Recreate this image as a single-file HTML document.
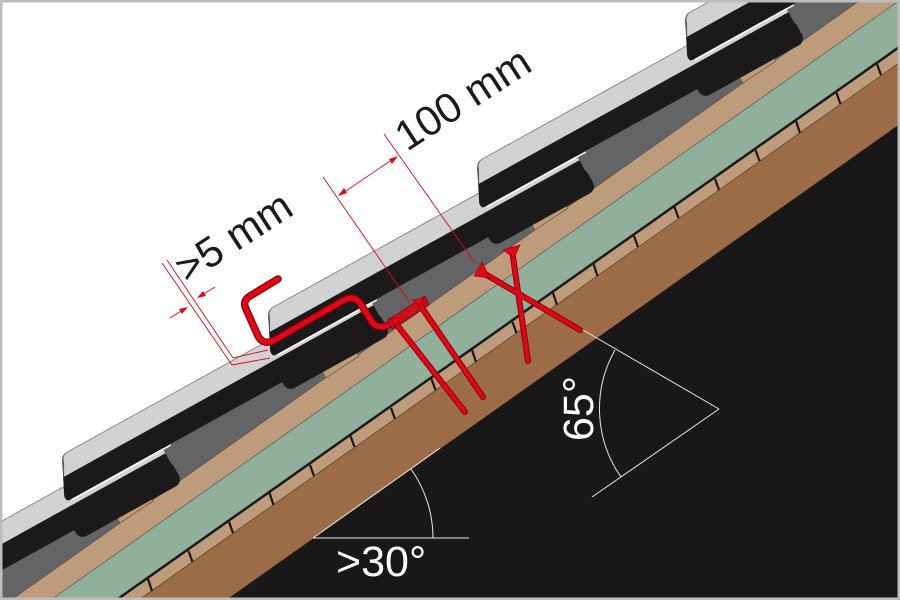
<!DOCTYPE html>
<html><head><meta charset="utf-8"><style>
html,body{margin:0;padding:0;background:#fff;width:900px;height:600px;overflow:hidden}
svg{display:block;overflow:hidden}
text{font-family:"Liberation Sans",sans-serif}
</style></head><body>
<svg width="900" height="600" viewBox="0 0 900 600" overflow="hidden" xmlns="http://www.w3.org/2000/svg">
<defs>
<clipPath id="frame"><rect x="0" y="0" width="900" height="600"/></clipPath>
<g id="tile">
  <path d="M4,0 L345,0 L345,43 L-15,43 Q-19,43 -18,37 L-3,6 Q0,0 4,0 Z" fill="#1b191a"/>
  <rect x="228" y="28" width="118" height="26" rx="8" fill="#1b191a"/>
  <path d="M6,0 L345,0 L345,20 L-9,20 L-2,7 Q0,0 6,0 Z" fill="#d1d2d4"/>
  <path d="M-9,20 L-2,7 Q0,0 6,0 L345,0" fill="none" stroke="#7a7a7c" stroke-width="0.8"/>
  <line x1="-13" y1="44" x2="100" y2="44" stroke="#ffffff" stroke-width="1.4"/>
</g>
<g id="batten">
  <polygon points="48,51 78,29 91,46 58,68" fill="#bd9b7b" stroke="#5a4a3a" stroke-width="0.6"/>
</g>
</defs>
<g clip-path="url(#frame)">
<rect x="0" y="0" width="900" height="600" fill="#fff"/>
<polygon points="-20,559 920,-105 920,-42 -20,622" fill="#636466"/>
<polygon points="-20,622 920,-42 920,-14 -20,650" fill="#bd9b7b" stroke="#5a4a3a" stroke-width="0.6"/>
<polygon points="-20,650 920,-14 920,31 -20,695" fill="#90b09c" stroke="#4a5a50" stroke-width="0.6"/>
<polygon points="-20,695 920,31 920,34 -20,698" fill="#1a1819"/>
<polygon points="-20,698 920,34 920,48 -20,712" fill="#bd9b7b"/>
<polygon points="-20,712 920,48 920,110 -20,774" fill="#9b6c46" stroke="#4a3020" stroke-width="0.6"/>
<polygon points="-20,774 920,110 920,600 -20,600" fill="#1a1719"/>
<g stroke="#1a1819" stroke-width="2.2">
<line x1="148" y1="579" x2="152" y2="591"/>
<line x1="188.5" y1="551" x2="192.5" y2="562"/>
<line x1="229" y1="522" x2="233" y2="533"/>
<line x1="269.5" y1="493" x2="273.5" y2="505"/>
<line x1="310" y1="465" x2="314" y2="476"/>
<line x1="350.5" y1="436" x2="354.5" y2="447"/>
<line x1="391" y1="408" x2="395" y2="419"/>
<line x1="431.5" y1="379" x2="435.5" y2="390"/>
<line x1="472" y1="350" x2="476" y2="362"/>
<line x1="512.5" y1="322" x2="516.5" y2="333"/>
<line x1="553" y1="293" x2="557" y2="305"/>
<line x1="593.5" y1="264" x2="597.5" y2="276"/>
<line x1="634" y1="236" x2="638" y2="247"/>
<line x1="674.5" y1="207" x2="678.5" y2="218"/>
<line x1="715" y1="179" x2="719" y2="190"/>
<line x1="755.5" y1="150" x2="759.5" y2="161"/>
<line x1="796" y1="121" x2="800" y2="133"/>
<line x1="836.5" y1="93" x2="840.5" y2="104"/>
<line x1="877" y1="64" x2="881" y2="75"/>
</g>
<use href="#batten" transform="translate(-146,603)"/>
<use href="#batten" transform="translate(62,455)"/>
<use href="#batten" transform="translate(268,310)"/>
<use href="#batten" transform="translate(477,162)"/>
<use href="#batten" transform="translate(685,15)"/>
<use href="#tile" transform="translate(-354,751) rotate(-29)"/>
<use href="#tile" transform="translate(-146,603) rotate(-29)"/>
<use href="#tile" transform="translate(62,455) rotate(-29)"/>
<use href="#tile" transform="translate(268,310) rotate(-29)"/>
<use href="#tile" transform="translate(477,162) rotate(-29)"/>
<use href="#tile" transform="translate(685,15) rotate(-29)"/>
<use href="#tile" transform="translate(893,-133) rotate(-29)"/>

<g stroke="#e30613" stroke-width="0.9" fill="none">
  <polyline points="162,263 232,365 270,358"/>
  <polyline points="167,260 233,358 268,350"/>
  <line x1="170" y1="318" x2="186" y2="308"/>
  <line x1="215" y1="287" x2="199" y2="297"/>
  <line x1="323" y1="177" x2="410" y2="303"/>
  <line x1="384" y1="134" x2="475" y2="263"/>
  <line x1="340" y1="195" x2="396" y2="157"/>
</g>
<g fill="#e30613">
  <polygon points="188,307 179,309 182,314"/>
  <polygon points="197,298 206,296 203,291"/>
  <polygon points="338,196 344,188 347,193"/>
  <polygon points="398,156 392,164 389,159"/>
</g>
<g fill="none" stroke-linecap="round" stroke-linejoin="round">
  <path d="M278,279 L250,296 Q242,301 246,309 L258,336 Q263,345 273,341 L344,300 Q354,295 360,303 L372,322 Q377,329 386,326 L395,322" stroke="#8a0010" stroke-width="7.5"/>
  <path d="M278,279 L250,296 Q242,301 246,309 L258,336 Q263,345 273,341 L344,300 Q354,295 360,303 L372,322 Q377,329 386,326 L395,322" stroke="#e30613" stroke-width="5"/>
</g>
<polygon points="388,320 425,296 429,305 392,329" fill="#c8101c" stroke="#8a0010" stroke-width="0.8"/>
<g stroke-linecap="round">
  <g stroke="#8a0010" stroke-width="6">
    <line x1="397" y1="325" x2="465" y2="412"/>
    <line x1="420" y1="305" x2="483" y2="397"/>
    <line x1="480" y1="271" x2="580" y2="330"/>
    <line x1="512" y1="250" x2="528" y2="361"/>
  </g>
  <g stroke="#e30613" stroke-width="4">
    <line x1="397" y1="325" x2="465" y2="412"/>
    <line x1="420" y1="305" x2="483" y2="397"/>
    <line x1="480" y1="271" x2="580" y2="330"/>
    <line x1="512" y1="250" x2="528" y2="361"/>
  </g>
</g>
<g fill="#e30613" stroke="#8a0010" stroke-width="0.6">
  <polygon points="474,276 482,262 490,278"/>
  <polygon points="503,250 520,245 514,258"/>
  <polygon points="389,318 400,318 397,326"/>
  <polygon points="412,300 424,298 420,306"/>
</g>
<g stroke="#e8e8e8" stroke-width="1" fill="none">
  <line x1="313" y1="538" x2="469" y2="538"/>
  <line x1="313" y1="538" x2="440" y2="448"/>
  <path d="M433,538 A120,120 0 0 0 411,469"/>
  <line x1="583" y1="330" x2="719" y2="409"/>
  <line x1="719" y1="409" x2="592" y2="497"/>
  <path d="M615,350 A119,119 0 0 0 621,477"/>
</g>
<text x="336" y="576" font-size="43" fill="#ffffff">&gt;30°</text>
<text transform="translate(593,441) rotate(-90)" font-size="43" fill="#ffffff">65°</text>
<text transform="translate(187,284) rotate(-33)" font-size="42" fill="#1a1a1a">&gt;5 mm</text>
<text transform="translate(407,152) rotate(-33)" font-size="42" fill="#1a1a1a">100 mm</text>
<rect x="1" y="1" width="898" height="598" fill="none" stroke="#bdbdbd" stroke-width="3"/>
</g>
</svg>
</body></html>
